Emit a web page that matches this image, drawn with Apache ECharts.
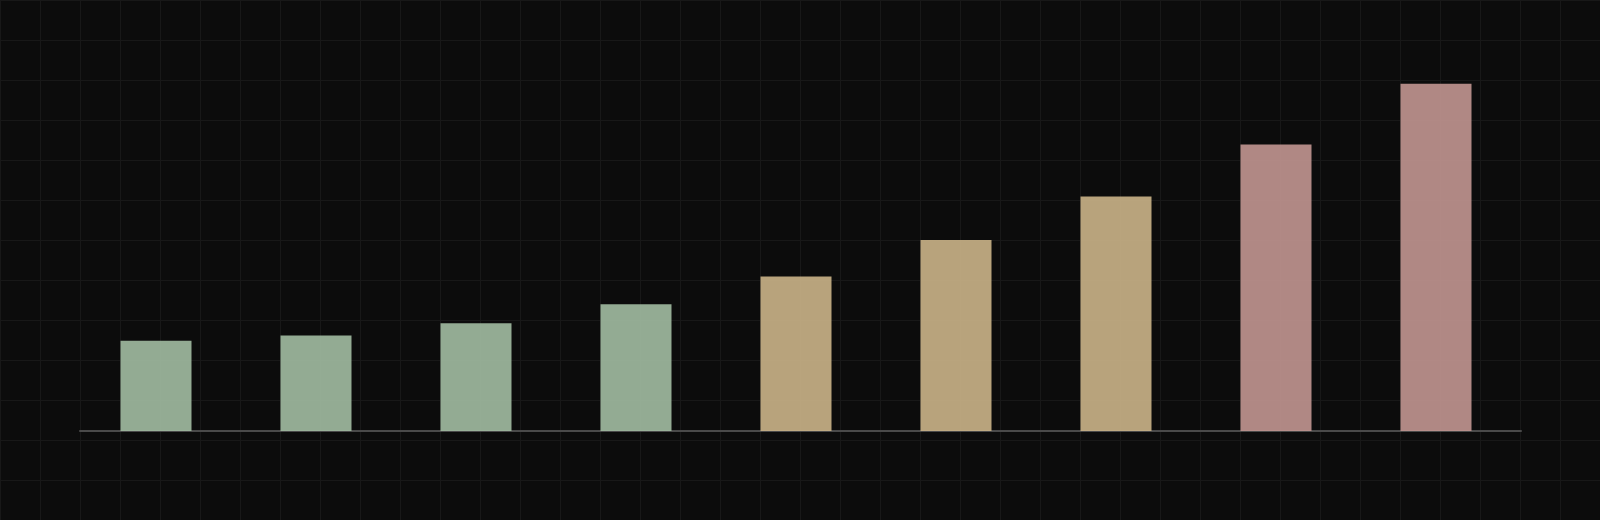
<!DOCTYPE html>
<html>
<head>
<meta charset="utf-8">
<script src="https://cdn.jsdelivr.net/npm/echarts@6/dist/echarts.min.js"></script>
<style>
html,body{margin:0;padding:0;width:1600px;height:520px;overflow:hidden;}
body{
  background-color:#0c0c0c;
  background-image:
    linear-gradient(to right, #181818 1px, transparent 1px),
    linear-gradient(to bottom, #181818 1px, transparent 1px);
  background-size:40px 40px;
}
#chart{width:1600px;height:520px;}
</style>
</head>
<body>
<div id="chart"></div>
<script>
const categories = ['1','2','3','4','5','6','7','8','9'];
const values = [26, 27.5, 31, 36.5, 44.5, 55, 67.5, 82.5, 100];
const groups = ['low','low','low','low','mid','mid','mid','high','high'];

const groupColors = { low: '#a2bda2', mid: '#cbb488', high: '#c29691' };

const chart = echarts.init(document.getElementById('chart'), null, { renderer: 'canvas' });
chart.setOption({
  backgroundColor: 'transparent',
  animation: false,
  grid: [
    { left: 76, right: 84, top: 49, bottom: 89 },
    { left: 80, right: 79, top: 49, bottom: 89 }
  ],
  xAxis: [
    { type: 'category', gridIndex: 0, data: categories,
      axisLine: { show: false }, axisTick: { show: false }, axisLabel: { show: false }, splitLine: { show: false } },
    { type: 'category', gridIndex: 1, data: categories, z: 0,
      axisLine: { show: true, lineStyle: { color: '#4a4a4a', width: 2 } },
      axisTick: { show: false }, axisLabel: { show: false }, splitLine: { show: false } }
  ],
  yAxis: [
    { type: 'value', gridIndex: 0, min: 0, max: 110, show: false, splitLine: { show: false } },
    { type: 'value', gridIndex: 1, min: 0, max: 110, show: false, splitLine: { show: false } }
  ],
  series: [{
    type: 'bar',
    xAxisIndex: 0,
    yAxisIndex: 0,
    barWidth: 71,
    z: 2,
    data: values.map((v, i) => ({
      value: v,
      itemStyle: { color: groupColors[groups[i]], opacity: 0.9 }
    }))
  }]
});
</script>
</body>
</html>
